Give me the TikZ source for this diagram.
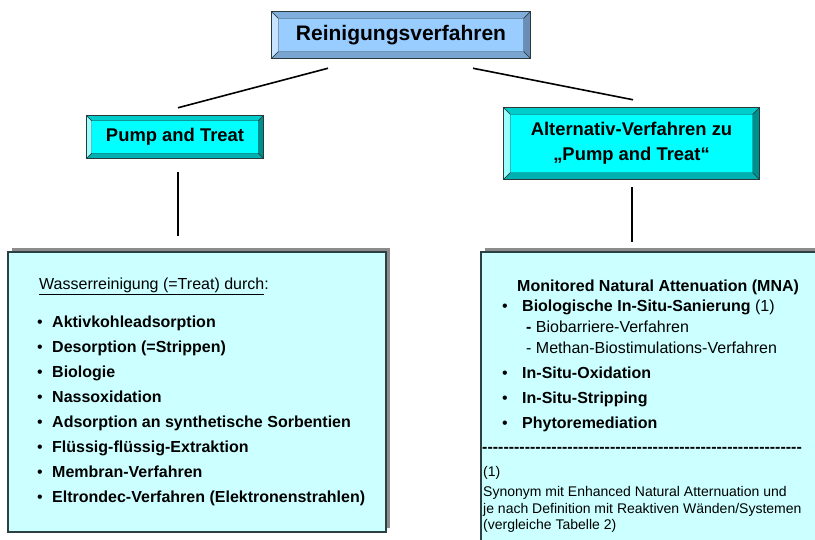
\documentclass[tikz,border=0pt]{standalone}
\usepackage{fontspec}
\setmainfont{Liberation Sans}
\usetikzlibrary{calc,shadows}

\definecolor{titleface}{HTML}{99CCFF}
\definecolor{titlelight}{HTML}{C8E3FF}
\definecolor{titletop}{HTML}{80AEDD}
\definecolor{titledark}{HTML}{6A8DB6}
\definecolor{titlebot}{HTML}{7AA5D0}
\definecolor{cyanface}{HTML}{00FFFF}
\definecolor{cyanlight}{HTML}{99FFFF}
\definecolor{cyantop}{HTML}{00CCCC}
\definecolor{cyandark}{HTML}{008F8F}
\definecolor{cyanbot}{HTML}{00B0B0}
\definecolor{edgegray}{HTML}{2A3A3A}
\definecolor{listfill}{HTML}{CCFFFF}
\definecolor{listedge}{HTML}{2B4040}
\definecolor{shadowgray}{HTML}{8C8C8C}

\tikzset{
  bevelbox/.style={draw=edgegray, line width=0.5pt, inner sep=0pt, align=center,
    font=\bfseries\fontsize{18.4}{25}\selectfont},
  listbox/.style={draw=listedge, line width=1.5pt, fill=listfill,
    drop shadow={shadow xshift=4pt, shadow yshift=4pt, fill=shadowgray, opacity=1}},
  link/.style={line width=1.6pt},
  item/.style={anchor=base west, inner sep=0pt, font=\bfseries\fontsize{16}{19}\selectfont},
  subitem/.style={anchor=base west, inner sep=0pt, font=\fontsize{16}{19}\selectfont},
  dotmark/.style={anchor=base west, inner sep=0pt, font=\fontsize{16}{19}\selectfont},
  note/.style={anchor=base west, inner sep=0pt, font=\fontsize{14}{16}\selectfont}
}

% bevel frame: node, width, left, top, right, bottom
\newcommand\bevelframe[6]{
  \filldraw[fill=#3, draw=edgegray, line width=0.4pt] (#1.north west) -- (#1.south west)
    -- ($(#1.south west)+(#2,-#2)$) -- ($(#1.north west)+(#2,#2)$) -- cycle;
  \filldraw[fill=#4, draw=edgegray, line width=0.4pt] (#1.north west) -- (#1.north east)
    -- ($(#1.north east)+(-#2,#2)$) -- ($(#1.north west)+(#2,#2)$) -- cycle;
  \filldraw[fill=#5, draw=edgegray, line width=0.4pt] (#1.north east) -- (#1.south east)
    -- ($(#1.south east)+(-#2,-#2)$) -- ($(#1.north east)+(-#2,#2)$) -- cycle;
  \filldraw[fill=#6, draw=edgegray, line width=0.4pt] (#1.south west) -- (#1.south east)
    -- ($(#1.south east)+(-#2,-#2)$) -- ($(#1.south west)+(#2,-#2)$) -- cycle;
  \draw[edgegray, line width=0.8pt] (#1.north west) rectangle (#1.south east);
}
\newcommand\hyphenrow{\foreach \k in {1,...,60}{-\kern0pt}}

\begin{document}
\begin{tikzpicture}[x=1pt,y=-1pt]
  \clip (0,0) rectangle (815,539);

  % head boxes
  \node[bevelbox, fill=titleface, minimum width=258pt, minimum height=46pt,
    font=\bfseries\fontsize{21}{25}\selectfont] (top) at (401,35) {Reinigungsverfahren};
  \bevelframe{top}{6.5}{titlelight}{titletop}{titledark}{titlebot}
  \node[bevelbox, fill=cyanface, minimum width=176pt, minimum height=42pt] (pump) at (175,137) {Pump and Treat};
  \bevelframe{pump}{5}{cyanlight}{cyantop}{cyandark}{cyanbot}
  \node[bevelbox, fill=cyanface, minimum width=255pt, minimum height=71pt] (alt) at (631.5,143.5)
    {Alternativ-Verfahren zu\\„Pump and Treat“};
  \bevelframe{alt}{6.5}{cyanlight}{cyantop}{cyandark}{cyanbot}

  % list boxes
  \node[listbox, minimum width=378pt, minimum height=280pt] (treat) at (197,392) {};
  \node[listbox, minimum width=359pt, minimum height=308pt] (mna) at (660.5,406) {};

  % branches
  \draw[link] ($(top.south)+(-73,10)$) -- ($(pump.north)+(3,-8)$);
  \draw[link] ($(top.south)+(72,10)$) -- ($(alt.north)+(1.5,-8)$);
  \draw[link] ($(pump.south)+(3,14)$) -- ($(pump.south |- treat.north)+(3,-15)$);
  \draw[link] ($(alt.south)+(0.5,8)$) -- ($(alt.south |- mna.north)+(0.5,-9)$);

  % pump and treat
  \node[subitem] (head) at (39,289) {\underline{Wasserreinigung (=Treat) durch}:};
  \foreach \t [count=\i] in {Aktivkohleadsorption, {Desorption (=Strippen)}, Biologie,
      Nassoxidation, Adsorption an synthetische Sorbentien, Flüssig-flüssig-Extraktion,
      Membran-Verfahren, {Eltrondec-Verfahren (Elektronenstrahlen)}}{
    \node[dotmark] (dot\i) at (37,302+25*\i) {\textbullet};
    \node[item] (pt\i) at (52,302+25*\i) {\t};
  }

  % alternatives
  \node[item] (mnahead) at (517,291) {Monitored Natural Attenuation (MNA)};
  \node[dotmark] (mdot1) at (502,311) {\textbullet};
  \node[item] (bio) at (522,311) {Biologische In-Situ-Sanierung \mdseries(1)};
  \node[subitem] (sub1) at (526,332) {\textbf{-} Biobarriere-Verfahren};
  \node[subitem] (sub2) at (526,353) {- Methan-Biostimulations-Verfahren};
  \foreach \t/\y [count=\i from 2] in {In-Situ-Oxidation/378, In-Situ-Stripping/403, Phytoremediation/428}{
    \node[dotmark] (mdot\i) at (502,\y) {\textbullet};
    \node[item] (alt\i) at (522,\y) {\t};
  }
  \node[item] (rule) at (482,452) {\hyphenrow};
  \node[note] (fn) at (483,476) {(1)};
  \node[note] (n1) at (483,496) {Synonym mit Enhanced Natural Atternuation und};
  \node[note] (n2) at (483,513) {je nach Definition mit Reaktiven Wänden/Systemen};
  \node[note] (n3) at (483,529) {(vergleiche Tabelle 2)};
\end{tikzpicture}
\end{document}
